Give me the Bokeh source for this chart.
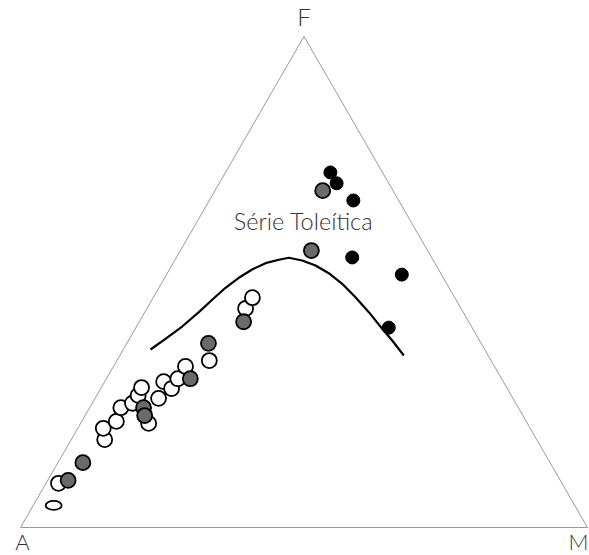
import numpy as np
from bokeh.plotting import figure
from bokeh.models import Label
from bokeh.embed import file_html
from bokeh.resources import INLINE

# Ternary data (percent): A, F, M
open_A = [88.8, 76.2, 75.3, 72.3, 70.1, 67.6, 65.8, 64.4, 66.8, 62.5, 59.9, 59.2, 57.1, 54.5, 49.7, 38.0, 35.7]
open_F = [9.0, 17.9, 20.2, 21.6, 24.4, 25.3, 26.9, 28.5, 21.2, 26.3, 29.7, 28.3, 30.3, 32.8, 34.0, 44.6, 46.8]
open_M = [2.2, 5.9, 4.5, 6.1, 5.5, 7.1, 7.3, 7.1, 12.0, 11.2, 10.4, 12.5, 12.6, 12.7, 16.3, 17.4, 17.5]

flat_A = [91.9]
flat_F = [4.5]
flat_M = [3.6]

grey_A = [86.8, 82.4, 66.1, 66.7, 54.9, 48.1, 39.7, 20.5, 12.4]
grey_F = [9.6, 13.2, 24.4, 22.8, 30.3, 37.5, 41.9, 56.4, 68.6]
grey_M = [3.6, 4.4, 9.5, 10.5, 14.8, 14.4, 18.4, 23.1, 19.0]

black_A = [9.2, 9.2, 8.0, 14.0, 7.0, 14.7]
black_F = [72.3, 70.1, 66.6, 55.0, 51.5, 40.7]
black_M = [18.5, 20.7, 25.4, 31.0, 41.5, 44.6]

curve_A = [58.95, 55.22, 51.02, 46.62, 43.01, 39.43, 36.08, 32.87, 29.87, 27.18,
           25.21, 23.13, 21.29, 19.74, 18.45, 17.47, 16.64, 15.97, 15.40, 14.88]
curve_F = [36.25, 38.43, 40.93, 43.85, 46.37, 48.82, 50.85, 52.54, 53.83, 54.52,
           54.93, 54.38, 53.36, 51.79, 49.63, 46.90, 43.85, 40.47, 38.08, 35.03]
curve_M = [4.80, 6.35, 8.05, 9.53, 10.62, 11.75, 13.07, 14.59, 16.30, 18.30,
           19.86, 22.49, 25.35, 28.47, 31.92, 35.63, 39.51, 43.56, 46.52, 50.09]

vertex_labels = ["A", "F", "M"]
series_label = "Série Toleítica"

H = np.sqrt(3) / 2


def to_xy(a, f, m):
    a = np.asarray(a, float)
    f = np.asarray(f, float)
    m = np.asarray(m, float)
    t = a + f + m
    f = f / t
    m = m / t
    return m + f / 2, f * H


W, HH = 589, 555
S = 567.0  # px per unit
x0 = -20 / S
y0 = (527 - HH) / S
p = figure(width=W, height=HH, output_backend="svg", toolbar_location=None,
           x_range=(x0, x0 + W / S), y_range=(y0, y0 + HH / S),
           min_border=0)
p.axis.visible = False
p.xgrid.visible = False
p.ygrid.visible = False
p.outline_line_color = None
p.background_fill_color = "white"
p.border_fill_color = "white"

# triangle
p.line([0, 1, 0.5, 0], [0, 0, H, 0], line_color="#9a9a9a", line_width=1)

# curve
cx, cy = to_xy(curve_A, curve_F, curve_M)
p.line(cx, cy, line_color="black", line_width=2.2, line_join="round")

ex, ey = to_xy(flat_A, flat_F, flat_M)
p.ellipse(ex, ey, width=16 / S, height=9 / S, fill_color="white",
          line_color="black", line_width=1.8)

ox, oy = to_xy(open_A, open_F, open_M)
p.scatter(ox, oy, size=15, marker="circle", fill_color="white",
          line_color="black", line_width=1.8)

gx, gy = to_xy(grey_A, grey_F, grey_M)
p.scatter(gx, gy, size=15, marker="circle", fill_color="#6a6a6a",
          line_color="black", line_width=1.8)

bx, by = to_xy(black_A, black_F, black_M)
p.scatter(bx, by, size=13, marker="circle", fill_color="black",
          line_color="black", line_width=1)

font = "Lato Light"
lab_kw = dict(text_font=font, text_color="#333333", text_baseline="alphabetic",
              text_align="center")


def py2y(py):
    return (527 - py) / S


p.add_layout(Label(x=2 / S, y=py2y(541), text=vertex_labels[0],
                   text_font_size="22px", **lab_kw))
p.add_layout(Label(x=0.5, y=py2y(16), text=vertex_labels[1],
                   text_font_size="24px", **lab_kw))
p.add_layout(Label(x=(578 - 20) / S, y=py2y(541), text=vertex_labels[2],
                   text_font_size="22px", **lab_kw))
p.add_layout(Label(x=(303 - 20) / S, y=py2y(220.5), text=series_label,
                   text_font_size="23.5px", **lab_kw))

open("out.html", "w").write(file_html(p, INLINE))
